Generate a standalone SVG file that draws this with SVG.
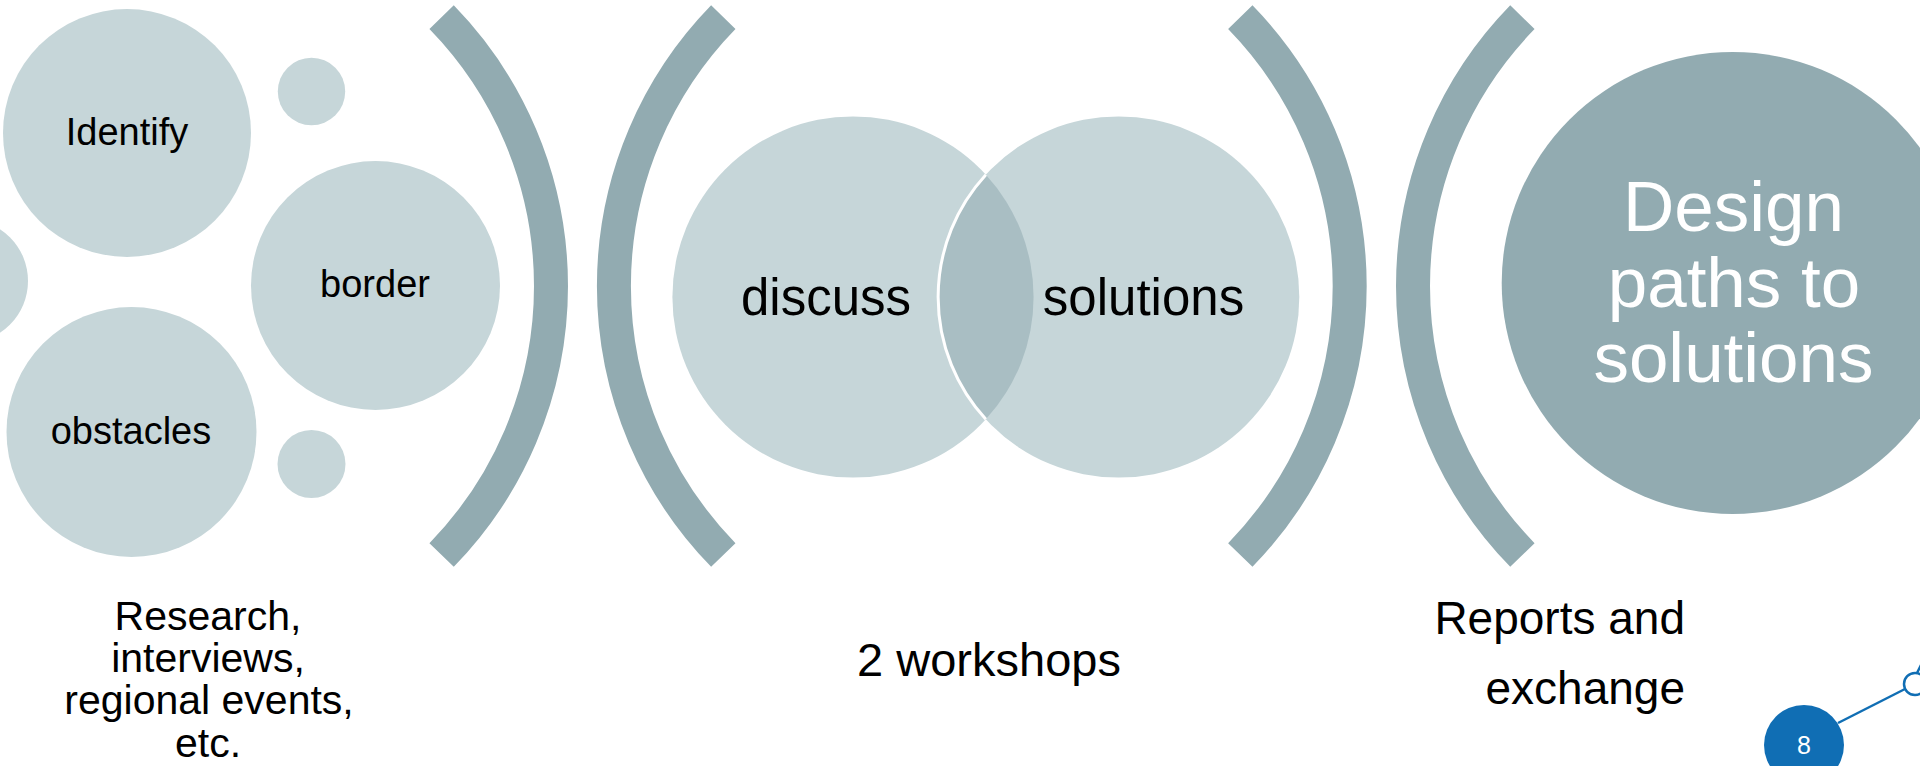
<svg xmlns="http://www.w3.org/2000/svg" width="1920" height="766" viewBox="0 0 1920 766">
<defs>
<style>
.lt{fill:#C6D6D9}
.dk{fill:#92ABB1}
.br{fill:none;stroke:#92ABB1;stroke-width:34;stroke-linecap:butt}
text{font-family:"Liberation Sans",Arial,sans-serif;fill:#000;text-anchor:middle}
.c{font-size:38px}
.v{font-size:51px}
.b{font-size:41px}
.w{fill:#FFFFFF;font-size:71px}
.pg{fill:#FFFFFF;font-size:25px}
.blue{fill:none;stroke:#106EB4;stroke-width:2.5}
</style>
</defs>
<rect width="1920" height="766" fill="#FFFFFF"/>

<g id="left-partial"><circle class="lt" cx="-34" cy="281" r="62"/></g>
<g id="node-identify"><circle class="lt" cx="127" cy="133" r="124"/><text class="c" x="127" y="145">Identify</text></g>
<g id="node-border"><circle class="lt" cx="375.5" cy="285.5" r="124.5"/><text class="c" x="375" y="297">border</text></g>
<g id="node-obstacles"><circle class="lt" cx="131.5" cy="432" r="125"/><text class="c" x="131" y="444">obstacles</text></g>
<g id="small-top"><circle class="lt" cx="311.5" cy="91.5" r="33.7"/></g>
<g id="small-bottom"><circle class="lt" cx="311.5" cy="464" r="34"/></g>

<g id="brackets">
<path class="br" d="M441.6 17.2 A385.2 385.2 0 0 1 441.6 555"/>
<path class="br" d="M723.3 17.2 A385.2 385.2 0 0 0 723.3 555"/>
<path class="br" d="M1240.3 17.2 A385.2 385.2 0 0 1 1240.3 555"/>
<path class="br" d="M1522.4 17.2 A385.2 385.2 0 0 0 1522.4 555"/>
</g>

<g id="node-discuss"><circle class="lt" cx="853" cy="297" r="180.6"/></g>
<g id="node-solutions"><circle class="lt" cx="1118.7" cy="297" r="180.6"/></g>
<g id="venn-overlap">
<path fill="#A9BEC3" d="M985.85 174.7 A180.6 180.6 0 0 1 985.85 419.3 A180.6 180.6 0 0 1 985.85 174.7 Z"/>
<path fill="none" stroke="#FFFFFF" stroke-width="3" d="M985.85 174.7 A180.6 180.6 0 0 0 985.85 419.3"/>
</g>
<g id="venn-labels">
<text class="v" x="826" y="315">discuss</text>
<text class="v" x="1143.5" y="315">solutions</text>
</g>

<g id="node-design"><circle class="dk" cx="1732.7" cy="283" r="231"/>
<text class="w" x="1733.5" y="231">Design</text>
<text class="w" x="1734" y="306.5">paths to</text>
<text class="w" x="1733.5" y="382">solutions</text>
</g>

<g id="label-research">
<text class="b" x="208" y="630">Research,</text>
<text class="b" x="208" y="672">interviews,</text>
<text class="b" x="209" y="714">regional events,</text>
<text class="b" x="208" y="757">etc.</text>
</g>
<g id="label-workshops"><text x="989" y="676" style="font-size:47px">2 workshops</text></g>
<g id="label-reports">
<text x="1685" y="634" style="text-anchor:end;font-size:46px">Reports and</text>
<text x="1685" y="704" style="text-anchor:end;font-size:46px">exchange</text>
</g>

<g id="page-number">
<line class="blue" x1="1838" y1="723" x2="1905" y2="689"/>
<line class="blue" x1="1917" y1="673" x2="1926" y2="655"/>
<circle cx="1915" cy="684" r="11" fill="#FFFFFF" stroke="#106EB4" stroke-width="2.5"/>
<circle cx="1804" cy="745" r="40" fill="#106EB4"/>
<text class="pg" x="1804" y="754">8</text>
</g>
</svg>
